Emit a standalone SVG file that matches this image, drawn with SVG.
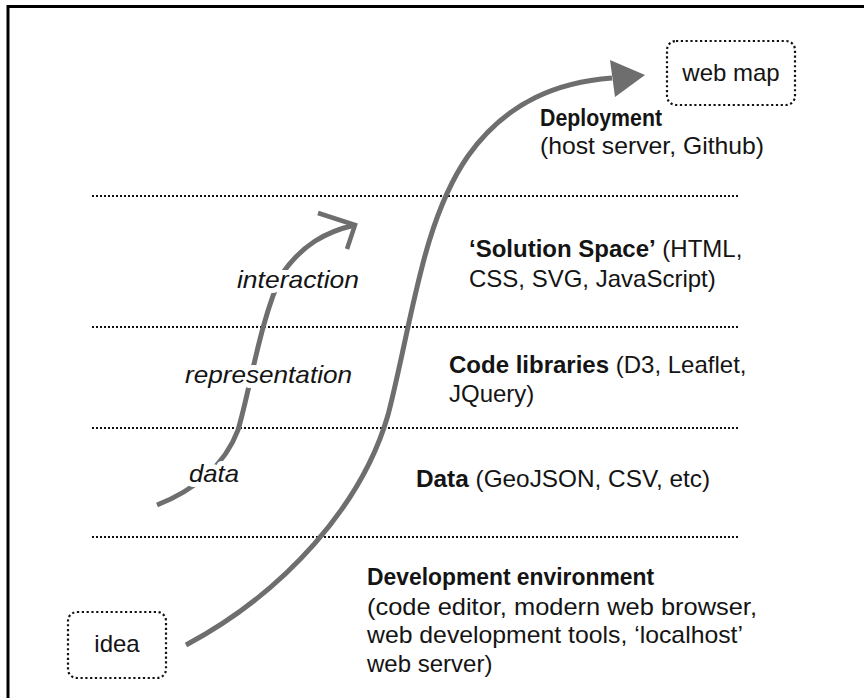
<svg xmlns="http://www.w3.org/2000/svg" width="864" height="698" viewBox="0 0 864 698">
<style>
text{font-family:"Liberation Sans",Arial,sans-serif;font-size:24px;fill:#141414}
.b{font-weight:bold}
.i{font-style:italic;stroke:#fff;stroke-width:10;paint-order:stroke;stroke-linejoin:round}
.dot{stroke:#111;stroke-width:2;stroke-dasharray:2 2;fill:none}
.box{fill:#fff;stroke:#111;stroke-width:2.2;stroke-dasharray:2.2 2.6}
.flow{fill:none;stroke:#6e6e6e;stroke-width:5}
.c{text-anchor:middle}
</style>
<rect width="864" height="698" fill="#fff"/>
<path d="M8,698 V6.5 H864" fill="none" stroke="#000" stroke-width="3"/>
<g id="layers">
<line class="dot" x1="92" y1="196" x2="738" y2="196"/>
<line class="dot" x1="92" y1="327" x2="738" y2="327"/>
<line class="dot" x1="92" y1="428" x2="738" y2="428"/>
<line class="dot" x1="92" y1="537" x2="738" y2="537"/>
</g>
<g id="connectors">
<path class="flow" d="M186,645 C285,592 362,505 388,415 C412,322 422,222 468,156 C508,100 560,82 612,78"/>
<polygon points="645,75 610,60 615,97" fill="#6e6e6e"/>
<path class="flow" stroke-width="4.5" d="M157,505 C195,490 225,465 238,430 C250,390 260,320 282,274 C302,245 325,232 355,225"/>
<polyline points="318,213 355,225 347,249" fill="none" stroke="#6e6e6e" stroke-width="4.5"/>
</g>
<g id="idea">
<rect class="box" x="68" y="612" width="98" height="66" rx="9"/>
<text class="c" x="117" y="652">idea</text>
</g>
<g id="webmap">
<rect class="box" x="667" y="41" width="128" height="64" rx="9"/>
<text class="c" x="731" y="81">web map</text>
</g>
<g id="deployment">
<text x="540" y="126" class="b" textLength="122" lengthAdjust="spacingAndGlyphs">Deployment</text>
<text x="540" y="154" textLength="224" lengthAdjust="spacingAndGlyphs">(host server, Github)</text>
</g>
<g id="solution">
<text x="469" y="257"><tspan class="b">‘Solution Space’</tspan> (HTML,</text>
<text x="469" y="287">CSS, SVG, JavaScript)</text>
</g>
<g id="libraries">
<text x="449" y="373"><tspan class="b">Code libraries</tspan> (D3, Leaflet,</text>
<text x="449" y="402">JQuery)</text>
</g>
<g id="data">
<text x="416" y="487" textLength="294" lengthAdjust="spacingAndGlyphs"><tspan class="b">Data</tspan> (GeoJSON, CSV, etc)</text>
</g>
<g id="devenv">
<text x="367" y="585" class="b" textLength="287" lengthAdjust="spacingAndGlyphs">Development environment</text>
<text x="367" y="615" textLength="390" lengthAdjust="spacingAndGlyphs">(code editor, modern web browser,</text>
<text x="367" y="643" textLength="376" lengthAdjust="spacingAndGlyphs">web development tools, ‘localhost’</text>
<text x="367" y="672">web server)</text>
</g>
<g id="labels">
<text class="i" x="237" y="288" textLength="122" lengthAdjust="spacingAndGlyphs">interaction</text>
<text class="i" x="185" y="383" textLength="167" lengthAdjust="spacingAndGlyphs">representation</text>
<text class="i" x="189" y="482" textLength="50" lengthAdjust="spacingAndGlyphs">data</text>
</g>
</svg>
